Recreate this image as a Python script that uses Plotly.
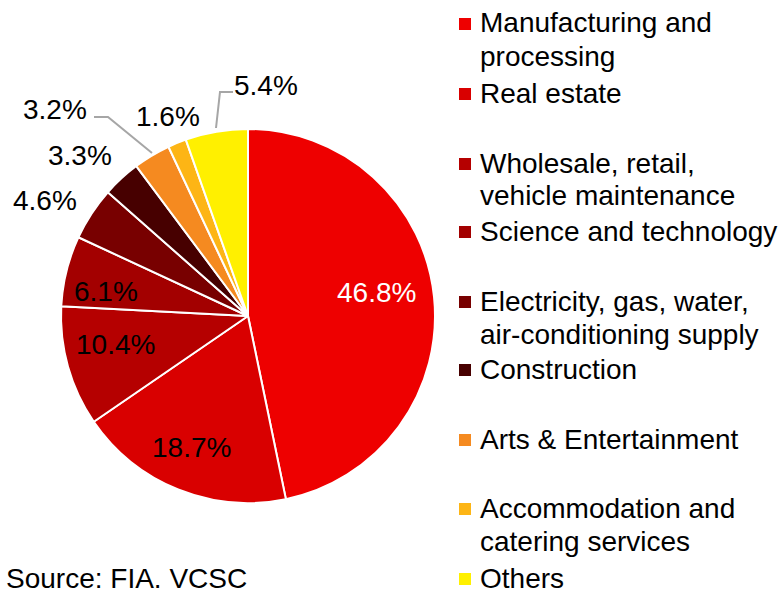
import plotly.graph_objects as go

# ---- data ----
categories = [
    "Manufacturing and<br>processing",
    "Real estate",
    "Wholesale, retail,<br>vehicle maintenance",
    "Science and technology",
    "Electricity, gas, water,<br>air-conditioning supply",
    "Construction",
    "Arts & Entertainment",
    "Accommodation and<br>catering services",
    "Others",
]
shares = [46.8, 18.7, 10.4, 6.1, 4.6, 3.3, 3.2, 1.6, 5.4]
value_labels = ["46.8%", "18.7%", "10.4%", "6.1%", "4.6%", "3.3%", "3.2%", "1.6%", "5.4%"]
colors = ["#EE0000", "#D90000", "#B50000", "#A30000", "#780000",
          "#470000", "#F58A20", "#FDB515", "#FFF000"]
source_text = "Source: FIA. VCSC"

# ---- layout helpers (pixel -> paper) ----
W, H = 781, 593
FONT = "Liberation Sans, Arial, sans-serif"


def px(x):
    return x / W


def py(y):
    return 1 - y / H


cx, cy, R = 248, 316, 187

fig = go.Figure()
fig.add_trace(go.Pie(
    labels=[c.replace("<br>", " ") for c in categories],
    values=shares,
    sort=False,
    direction="clockwise",
    rotation=0,
    marker=dict(colors=colors, line=dict(color="white", width=2)),
    textinfo="none",
    hoverinfo="label+percent",
    showlegend=False,
    domain=dict(x=[px(cx - R), px(cx + R)], y=[py(cy + R), py(cy - R)]),
))

annotations = []
# value label positions (pixel centres)
label_pos = [(376, 292), (191, 447), (115, 344), (106, 291), (45, 200),
             (80, 155), (55, 109), (168, 117), (266, 85)]
label_colors = ["white"] + ["black"] * 8
for txt, (x, y), col in zip(value_labels, label_pos, label_colors):
    annotations.append(dict(
        x=px(x), y=py(y), xref="paper", yref="paper", text=txt, showarrow=False,
        xanchor="center", yanchor="middle",
        font=dict(family=FONT, size=28, color=col),
    ))

shapes = []
# leader lines
for pts in [[(94, 117), (108, 117), (152, 153)], [(233, 92), (220, 92), (216, 128)]]:
    path = "M " + " L ".join(f"{px(a)},{py(b)}" for a, b in pts)
    shapes.append(dict(type="path", path=path, xref="paper", yref="paper",
                       line=dict(color="#A6A6A6", width=2)))

# custom legend
legend_y = [24, 94, 164, 232, 302, 370, 440, 509, 579]
line_gap = 33
for cat, col, y in zip(categories, colors, legend_y):
    shapes.append(dict(type="rect", xref="paper", yref="paper",
                       x0=px(459), x1=px(471), y0=py(y + 6), y1=py(y - 6),
                       fillcolor=col, line=dict(width=0)))
    for i, line in enumerate(cat.split("<br>")):
        annotations.append(dict(
            x=px(478), y=py(y - 1 + i * line_gap), xref="paper", yref="paper",
            text=line, showarrow=False, xanchor="left", yanchor="middle",
            font=dict(family=FONT, size=28, color="black"),
        ))

annotations.append(dict(
    x=px(4), y=py(578), xref="paper", yref="paper", text=source_text,
    showarrow=False, xanchor="left", yanchor="middle",
    font=dict(family=FONT, size=28, color="black"),
))

fig.update_layout(
    width=W, height=H,
    margin=dict(l=0, r=0, t=0, b=0),
    paper_bgcolor="white", plot_bgcolor="white",
    annotations=annotations, shapes=shapes,
)

fig.write_html(
    "out.html",
    config={"displayModeBar": False},
    post_script="document.body.style.margin='0';document.body.style.overflow='hidden';",
)
